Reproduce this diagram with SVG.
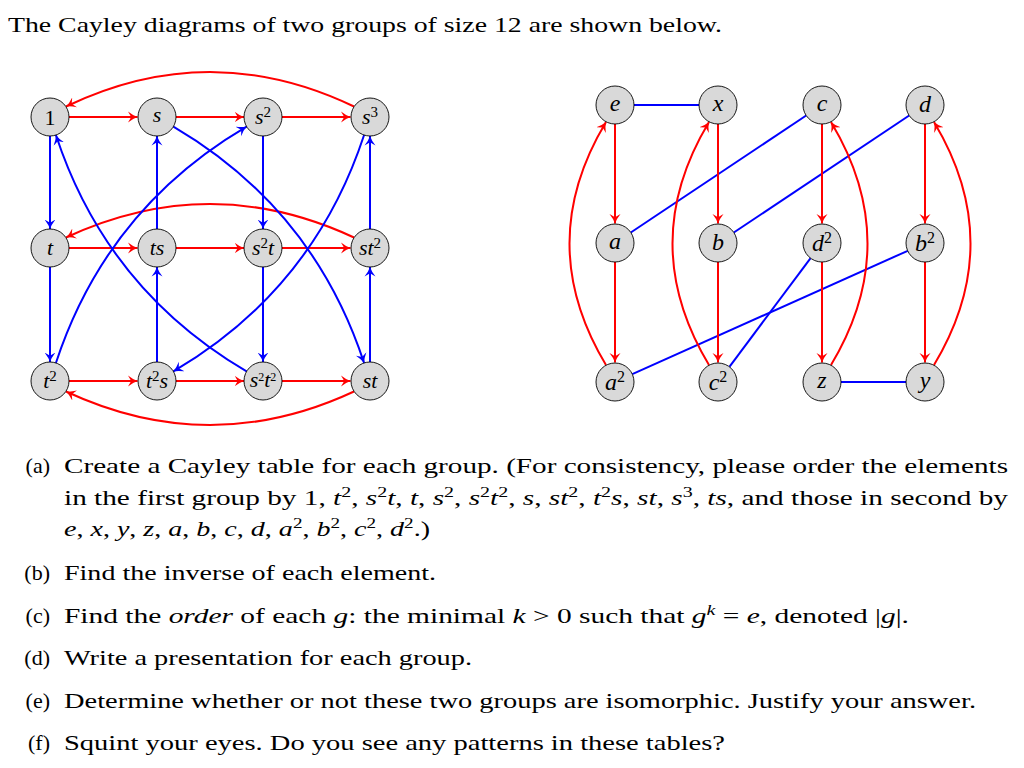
<svg xmlns="http://www.w3.org/2000/svg" width="1024" height="768" viewBox="0 0 1024 768">
<style>
.bg{fill:#fff}
.node circle{fill:#d9d9d9;stroke:#000;stroke-width:0.9}
.node text{font-family:"Liberation Serif","Times New Roman",serif;font-style:italic;text-anchor:middle;fill:#000}
.node text.up{font-style:normal}
.L text{font-size:22px}
.R text{font-size:24px}
.r{fill:none;stroke:#f00;stroke-width:2}
.b{fill:none;stroke:#00f;stroke-width:2}
.ra{marker-end:url(#ar)}
.ba{marker-end:url(#ab)}
.txt{font-family:"Liberation Serif","Times New Roman",serif;font-size:22px;fill:#000}
.lab{text-anchor:end}
.i{font-style:italic}
</style>
<defs>
<marker id="ar" viewBox="0 -6 10 12" refX="9.5" refY="0" markerWidth="10" markerHeight="12" markerUnits="userSpaceOnUse" orient="auto">
<path d="M0,-5.5 Q5,-1.5 9.5,0 Q5,1.5 0,5.5 L3.2,0 Z" fill="#f00"/>
</marker>
<marker id="ab" viewBox="0 -6 10 12" refX="9.5" refY="0" markerWidth="10" markerHeight="12" markerUnits="userSpaceOnUse" orient="auto">
<path d="M0,-5.5 Q5,-1.5 9.5,0 Q5,1.5 0,5.5 L3.2,0 Z" fill="#00f"/>
</marker>
</defs>
<rect class="bg" x="0" y="0" width="1024" height="768"/>

<text class="txt" x="8" y="32" textLength="714" lengthAdjust="spacingAndGlyphs">The Cayley diagrams of two groups of size 12 are shown below.</text>

<g id="connectors">
<!-- left diagram: red -->
<path class="r ra" d="M69,117 H137.5"/>
<path class="r ra" d="M176,117 H244"/>
<path class="r ra" d="M282,117 H350.5"/>
<path class="r ra" d="M69,248 H137.5"/>
<path class="r ra" d="M176,248 H244"/>
<path class="r ra" d="M282,248 H350.5"/>
<path class="r ra" d="M69,381 H137.5"/>
<path class="r ra" d="M176,381 H244"/>
<path class="r ra" d="M282,381 H350.5"/>
<path class="r ra" d="M354,106.5 Q210,37.5 66,106.5"/>
<path class="r ra" d="M354,237.5 Q210,170.5 66,237.5"/>
<path class="r ra" d="M354,391.5 Q210,458.5 66,391.5"/>
<!-- left diagram: blue -->
<path class="b ba" d="M50,136 V229"/>
<path class="b ba" d="M50,267 V362"/>
<path class="b ba" d="M157,229 V136"/>
<path class="b ba" d="M157,362 V267"/>
<path class="b ba" d="M263,136 V229"/>
<path class="b ba" d="M263,267 V362"/>
<path class="b ba" d="M370,229 V136"/>
<path class="b ba" d="M370,362 V267"/>
<path class="b ba" d="M246.6,371.4 Q106.6,289.2 55.9,135"/>
<path class="b ba" d="M55.9,363 Q106.6,208.8 246.6,126.6"/>
<path class="b ba" d="M173.4,126.6 Q313.4,208.8 364.1,363"/>
<path class="b ba" d="M364.1,135 Q313.4,289.2 173.4,371.4"/>
<!-- right diagram: blue -->
<path class="b" d="M634,105 H699"/>
<path class="b" d="M630.8,232.5 L806.2,115.5"/>
<path class="b" d="M733.8,232.5 L909.2,115.5"/>
<path class="b" d="M729.4,366.8 L810.6,258.2"/>
<path class="b" d="M632.3,374.2 L907.7,250.8"/>
<path class="b" d="M841,382 H906"/>
<!-- right diagram: red -->
<path class="r ra" d="M615,124 V223.5"/>
<path class="r ra" d="M615,262 V362.5"/>
<path class="r ra" d="M718,124 V223.5"/>
<path class="r ra" d="M718,262 V362.5"/>
<path class="r ra" d="M822,124 V223.5"/>
<path class="r ra" d="M822,262 V362.5"/>
<path class="r ra" d="M925,124 V223.5"/>
<path class="r ra" d="M925,262 V362.5"/>
<path class="r ra" d="M606,365 Q533,243.5 606,122"/>
<path class="r ra" d="M709,365 Q636,243.5 709,122"/>
<path class="r ra" d="M831,365 Q904,243.5 831,122"/>
<path class="r ra" d="M934,365 Q1007,243.5 934,122"/>
</g>

<!-- left nodes -->
<g id="n-1" class="node L"><circle cx="50" cy="117" r="19"/><text x="50" y="124.5" class="up">1</text></g>
<g id="n-s" class="node L"><circle cx="157" cy="117" r="19"/><text x="157" y="122">s</text></g>
<g id="n-s2" class="node L"><circle cx="263" cy="117" r="19"/><text x="263" y="124">s<tspan font-size="15" baseline-shift="7.5" font-style="normal">2</tspan></text></g>
<g id="n-s3" class="node L"><circle cx="370" cy="117" r="19"/><text x="370" y="124">s<tspan font-size="15" baseline-shift="7.5" font-style="normal">3</tspan></text></g>
<g id="n-t" class="node L"><circle cx="50" cy="248" r="19"/><text x="50" y="254.5">t</text></g>
<g id="n-ts" class="node L"><circle cx="157" cy="248" r="19"/><text x="157" y="254.5">ts</text></g>
<g id="n-s2t" class="node L"><circle cx="263" cy="248" r="19"/><text x="263" y="255">s<tspan font-size="15" baseline-shift="7.5" font-style="normal">2</tspan>t</text></g>
<g id="n-st2" class="node L"><circle cx="370" cy="248" r="19"/><text x="370" y="255">st<tspan font-size="15" baseline-shift="7.5" font-style="normal">2</tspan></text></g>
<g id="n-t2" class="node L"><circle cx="50" cy="381" r="19"/><text x="50" y="388">t<tspan font-size="15" baseline-shift="7.5" font-style="normal">2</tspan></text></g>
<g id="n-t2s" class="node L"><circle cx="157" cy="381" r="19"/><text x="157" y="388">t<tspan font-size="15" baseline-shift="7.5" font-style="normal">2</tspan>s</text></g>
<g id="n-s2t2" class="node L"><circle cx="263" cy="381" r="19"/><text x="263" y="387" font-size="18">s<tspan font-size="12" baseline-shift="6" font-style="normal">2</tspan>t<tspan font-size="12" baseline-shift="6" font-style="normal">2</tspan></text></g>
<g id="n-st" class="node L"><circle cx="370" cy="381" r="19"/><text x="370" y="387.5">st</text></g>

<!-- right nodes -->
<g id="n-e" class="node R"><circle cx="615" cy="105" r="19"/><text x="615" y="111">e</text></g>
<g id="n-x" class="node R"><circle cx="718" cy="105" r="19"/><text x="718" y="111">x</text></g>
<g id="n-c" class="node R"><circle cx="822" cy="105" r="19"/><text x="822" y="111">c</text></g>
<g id="n-d" class="node R"><circle cx="925" cy="105" r="19"/><text x="925" y="112">d</text></g>
<g id="n-a" class="node R"><circle cx="615" cy="243" r="19"/><text x="615" y="249">a</text></g>
<g id="n-b" class="node R"><circle cx="718" cy="243" r="19"/><text x="718" y="250">b</text></g>
<g id="n-d2" class="node R"><circle cx="822" cy="243" r="19"/><text x="822" y="251">d<tspan font-size="16" baseline-shift="8" font-style="normal">2</tspan></text></g>
<g id="n-b2" class="node R"><circle cx="925" cy="243" r="19"/><text x="925" y="251">b<tspan font-size="16" baseline-shift="8" font-style="normal">2</tspan></text></g>
<g id="n-a2" class="node R"><circle cx="615" cy="382" r="19"/><text x="615" y="390">a<tspan font-size="16" baseline-shift="8" font-style="normal">2</tspan></text></g>
<g id="n-c2" class="node R"><circle cx="718" cy="382" r="19"/><text x="718" y="390">c<tspan font-size="16" baseline-shift="8" font-style="normal">2</tspan></text></g>
<g id="n-z" class="node R"><circle cx="822" cy="382" r="19"/><text x="822" y="388">z</text></g>
<g id="n-y" class="node R"><circle cx="925" cy="382" r="19"/><text x="925" y="388">y</text></g>

<!-- questions -->
<g id="questions" class="txt">
<text class="txt lab" x="50" y="473">(a)</text>
<text class="txt" x="64" y="473" textLength="944" lengthAdjust="spacingAndGlyphs">Create a Cayley table for each group. (For consistency, please order the elements</text>
<text class="txt" x="64" y="505" textLength="944" lengthAdjust="spacingAndGlyphs">in the first group by 1, <tspan class="i">t</tspan><tspan font-size="15" baseline-shift="8">2</tspan>, <tspan class="i">s</tspan><tspan font-size="15" baseline-shift="8">2</tspan><tspan class="i">t</tspan>, <tspan class="i">t</tspan>, <tspan class="i">s</tspan><tspan font-size="15" baseline-shift="8">2</tspan>, <tspan class="i">s</tspan><tspan font-size="15" baseline-shift="8">2</tspan><tspan class="i">t</tspan><tspan font-size="15" baseline-shift="8">2</tspan>, <tspan class="i">s</tspan>, <tspan class="i">st</tspan><tspan font-size="15" baseline-shift="8">2</tspan>, <tspan class="i">t</tspan><tspan font-size="15" baseline-shift="8">2</tspan><tspan class="i">s</tspan>, <tspan class="i">st</tspan>, <tspan class="i">s</tspan><tspan font-size="15" baseline-shift="8">3</tspan>, <tspan class="i">ts</tspan>, and those in second by</text>
<text class="txt" x="64" y="536" textLength="366" lengthAdjust="spacingAndGlyphs"><tspan class="i">e</tspan>, <tspan class="i">x</tspan>, <tspan class="i">y</tspan>, <tspan class="i">z</tspan>, <tspan class="i">a</tspan>, <tspan class="i">b</tspan>, <tspan class="i">c</tspan>, <tspan class="i">d</tspan>, <tspan class="i">a</tspan><tspan font-size="15" baseline-shift="8">2</tspan>, <tspan class="i">b</tspan><tspan font-size="15" baseline-shift="8">2</tspan>, <tspan class="i">c</tspan><tspan font-size="15" baseline-shift="8">2</tspan>, <tspan class="i">d</tspan><tspan font-size="15" baseline-shift="8">2</tspan>.)</text>
<text class="txt lab" x="50" y="580">(b)</text>
<text class="txt" x="64" y="580" textLength="372" lengthAdjust="spacingAndGlyphs">Find the inverse of each element.</text>
<text class="txt lab" x="50" y="623">(c)</text>
<text class="txt" x="64" y="623" textLength="845" lengthAdjust="spacingAndGlyphs">Find the <tspan class="i">order</tspan> of each <tspan class="i">g</tspan>: the minimal <tspan class="i">k</tspan> &gt; 0 such that <tspan class="i">g</tspan><tspan class="i" font-size="15" baseline-shift="8">k</tspan> = <tspan class="i">e</tspan>, denoted |<tspan class="i">g</tspan>|.</text>
<text class="txt lab" x="50" y="665">(d)</text>
<text class="txt" x="64" y="665" textLength="408" lengthAdjust="spacingAndGlyphs">Write a presentation for each group.</text>
<text class="txt lab" x="50" y="708">(e)</text>
<text class="txt" x="64" y="708" textLength="912" lengthAdjust="spacingAndGlyphs">Determine whether or not these two groups are isomorphic. Justify your answer.</text>
<text class="txt lab" x="50" y="750">(f)</text>
<text class="txt" x="64" y="750" textLength="661" lengthAdjust="spacingAndGlyphs">Squint your eyes. Do you see any patterns in these tables?</text>
</g>
</svg>
